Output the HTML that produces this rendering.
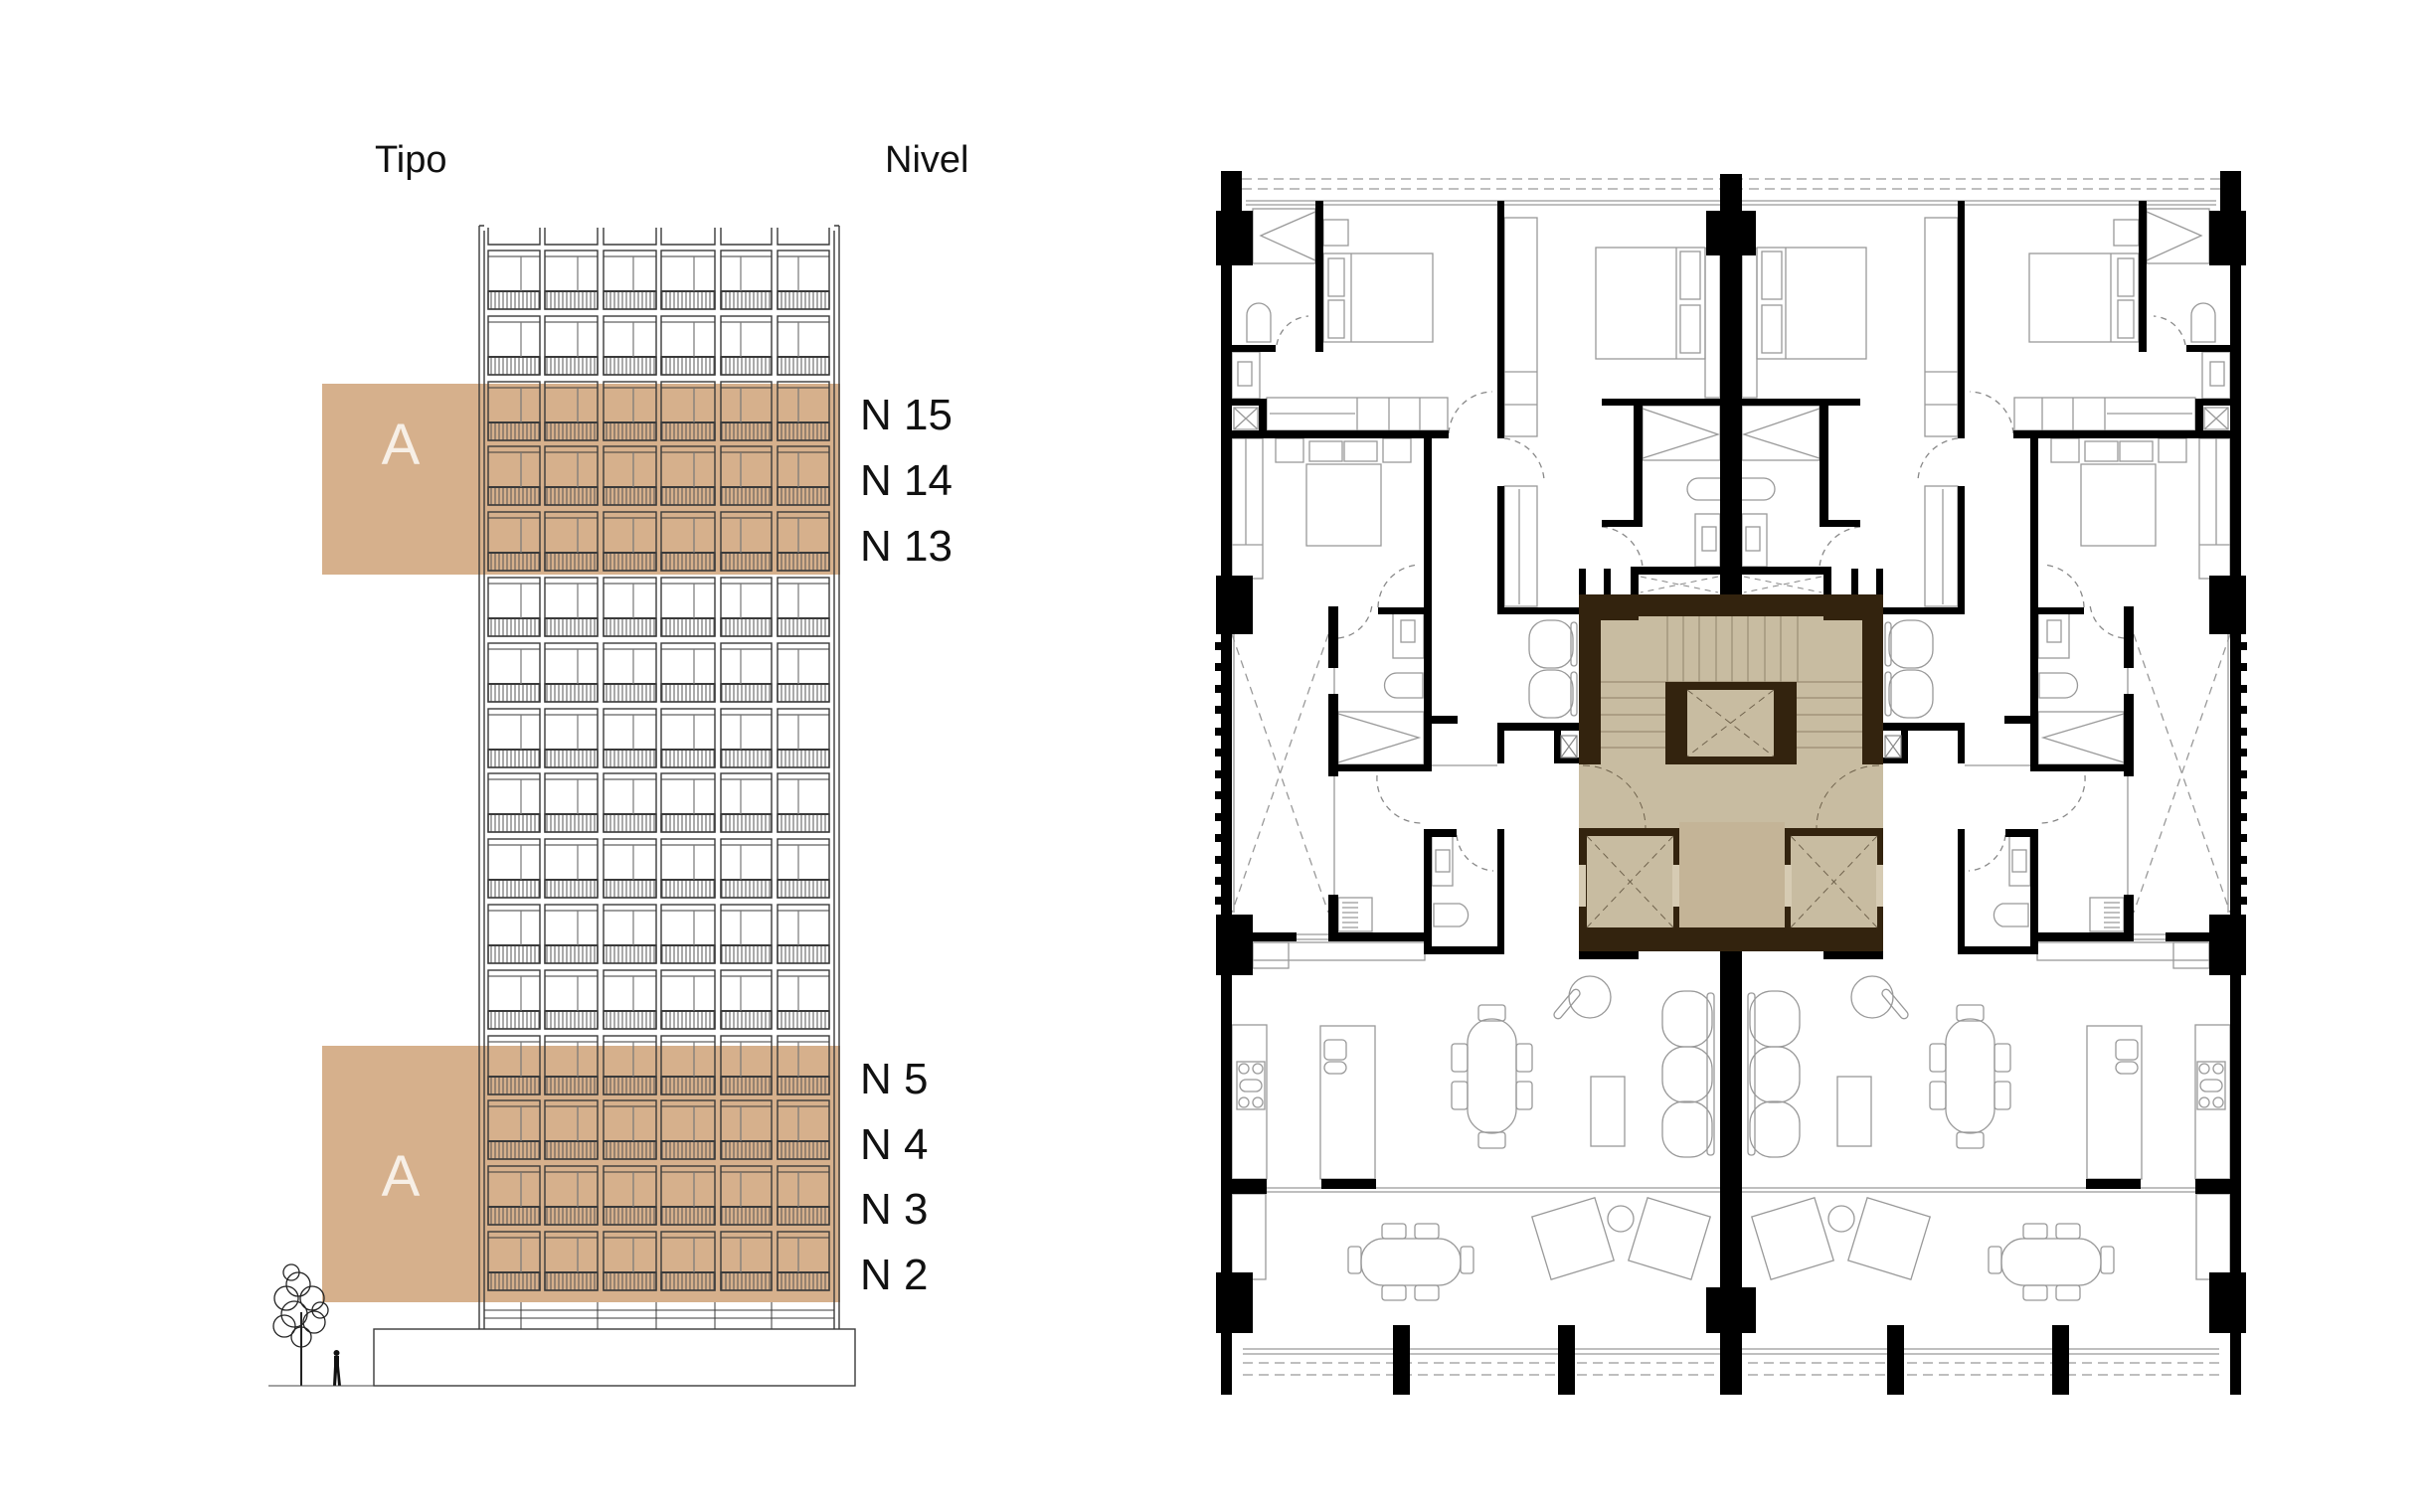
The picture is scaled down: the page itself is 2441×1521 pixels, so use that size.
<!DOCTYPE html>
<html><head><meta charset="utf-8"><style>
html,body{margin:0;padding:0;background:#fff;}
svg{display:block;}
text{font-family:"Liberation Sans",sans-serif;}
</style></head><body>
<svg width="2441" height="1521" viewBox="0 0 2441 1521" xmlns="http://www.w3.org/2000/svg">
<defs>
<pattern id="bal" width="4" height="20" patternUnits="userSpaceOnUse"><line x1="2" y1="0" x2="2" y2="20" stroke="#555" stroke-width="1"/></pattern>
<g id="row" fill="none" stroke="#3a3a3a" stroke-width="1.4">
<rect x="491" y="0" width="52" height="59"/><rect x="548" y="0" width="53" height="59"/><rect x="607" y="0" width="53" height="59"/><rect x="665" y="0" width="54" height="59"/><rect x="725" y="0" width="51" height="59"/><rect x="782" y="0" width="52" height="59"/>
<rect x="491" y="41" width="52" height="18" fill="url(#bal)"/><rect x="548" y="41" width="53" height="18" fill="url(#bal)"/><rect x="607" y="41" width="53" height="18" fill="url(#bal)"/><rect x="665" y="41" width="54" height="18" fill="url(#bal)"/><rect x="725" y="41" width="51" height="18" fill="url(#bal)"/><rect x="782" y="41" width="52" height="18" fill="url(#bal)"/>
<path d="M491 6H543M548 6H601M607 6H660M665 6H719M725 6H776M782 6H834" stroke-width="1"/>
<path d="M491 41H543M548 41H601M607 41H660M665 41H719M725 41H776M782 41H834" stroke-width="2"/>
<path d="M524 6V41M581 6V41M637 6V41M698 6V41M745 6V41M803 6V41" stroke="#777" stroke-width="1.2"/>
</g>
</defs>

<!-- ELEVATION -->
<text x="377" y="173" font-size="38" fill="#111">Tipo</text>
<text x="890" y="173" font-size="38" fill="#111">Nivel</text>
<rect x="324" y="386" width="521" height="192" fill="#d6b08c"/>
<rect x="324" y="1052" width="521" height="258" fill="#d6b08c"/>
<g fill="none" stroke="#3a3a3a" stroke-width="1.4">
<path d="M482 227V1337M487 232V1337M839 232V1337M844 227V1337M482 227H487M839 227H844"/>
<path d="M491 229V246H543V229M548 229V246H601V229M607 229V246H660V229M665 229V246H719V229M725 229V246H776V229M782 229V246H834V229"/>
<path d="M487 1318H839M487 1326H839M524 1310V1337M601 1310V1337M660 1310V1337M719 1310V1337M776 1310V1337" stroke-width="1"/>
<rect x="376" y="1337" width="484" height="57"/>
</g>
<use href="#row" y="252"/><use href="#row" y="318"/><use href="#row" y="384"/><use href="#row" y="449"/>
<use href="#row" y="515"/><use href="#row" y="581"/><use href="#row" y="647"/><use href="#row" y="713"/>
<use href="#row" y="778"/><use href="#row" y="844"/><use href="#row" y="910"/><use href="#row" y="976"/>
<use href="#row" y="1042"/><use href="#row" y="1107"/><use href="#row" y="1173"/><use href="#row" y="1239"/>
<text x="403" y="467" font-size="58" fill="#f7efe6" text-anchor="middle">A</text>
<text x="403" y="1203" font-size="58" fill="#f7efe6" text-anchor="middle">A</text>
<g font-size="44" fill="#111">
<text x="865" y="432">N 15</text><text x="865" y="498">N 14</text><text x="865" y="564">N 13</text>
<text x="865" y="1100">N 5</text><text x="865" y="1166">N 4</text><text x="865" y="1231">N 3</text><text x="865" y="1297">N 2</text>
</g>
<!-- tree & person -->
<g fill="none" stroke="#222" stroke-width="1.3">
<line x1="303" y1="1320" x2="303" y2="1394" stroke-width="2"/>
<circle cx="300" cy="1292" r="12"/><circle cx="288" cy="1306" r="12"/><circle cx="314" cy="1306" r="12"/><circle cx="296" cy="1322" r="13"/><circle cx="316" cy="1330" r="11"/><circle cx="286" cy="1334" r="11"/><circle cx="303" cy="1345" r="10"/><circle cx="293" cy="1280" r="8"/><circle cx="322" cy="1318" r="8"/>
</g>
<path d="M336 1364h5v10l2 20h-3l-1-14-1 14h-3l1-20z" fill="#111"/><circle cx="338.5" cy="1361" r="3" fill="#111"/>
<line x1="270" y1="1394" x2="376" y2="1394" stroke="#444" stroke-width="1"/>

<!-- PLAN LEFT HALF -->
<g id="half">
<g fill="none" stroke="#999" stroke-width="1.3">
<path d="M1249 180H1730M1249 190H1730" stroke-dasharray="10 6"/>
<path d="M1253 202H1730M1253 206H1730"/>
<path d="M1250 1357H1730M1250 1362H1730"/>
<path d="M1250 1371H1730M1250 1383H1730" stroke-dasharray="10 6"/>
<path d="M1274 1195H1730M1274 1199H1730"/>
<path d="M1237 638V918M1241 638V918"/>
<path d="M1239 638L1336 918M1336 638L1239 918" stroke-dasharray="8 6"/>
<path d="M1342 672V698M1342 781V900"/>
<path d="M1304 940H1336M1304 945H1336M1440 770H1506"/>
<!-- furniture -->
<rect x="1331" y="255" width="110" height="89"/><rect x="1336" y="260" width="16" height="38"/><rect x="1336" y="302" width="16" height="38"/><line x1="1359" y1="255" x2="1359" y2="344"/>
<rect x="1331" y="221" width="25" height="26"/>
<rect x="1260" y="210" width="63" height="55"/><polyline points="1323,213 1268,237 1323,262"/>
<path d="M1254 344V317a12 12 0 0 1 24 0V344z"/>
<rect x="1239" y="354" width="28" height="47"/><rect x="1245" y="364" width="14" height="24"/>
<rect x="1241" y="410" width="24" height="22"/><path d="M1241 410L1265 432M1265 410L1241 432"/>
<rect x="1274" y="400" width="182" height="33"/><path d="M1365 400V433M1397 400V433M1428 400V433M1277 416H1363"/>
<rect x="1513" y="219" width="33" height="220"/><path d="M1513 374H1546M1513 407H1546"/>
<rect x="1605" y="249" width="110" height="112"/><rect x="1690" y="253" width="20" height="48"/><rect x="1690" y="307" width="20" height="48"/><line x1="1686" y1="249" x2="1686" y2="361"/>
<rect x="1715" y="250" width="15" height="150"/>
<rect x="1314" y="467" width="75" height="82"/><rect x="1283" y="441" width="28" height="24"/><rect x="1317" y="444" width="33" height="20"/><rect x="1352" y="444" width="33" height="20"/><rect x="1391" y="441" width="28" height="24"/>
<rect x="1239" y="441" width="31" height="141"/><path d="M1253 441V548M1239 548H1270"/>
<rect x="1513" y="489" width="33" height="121"/><line x1="1528" y1="492" x2="1528" y2="608"/>
<rect x="1652" y="408" width="78" height="55"/><polyline points="1652,411 1728,437 1652,461"/>
<path d="M1730 481H1708a11 11 0 0 0 0 22H1730"/>
<rect x="1705" y="517" width="25" height="53"/><rect x="1712" y="530" width="14" height="24"/>
<rect x="1538" y="624" width="44" height="48" rx="18"/><rect x="1538" y="674" width="44" height="48" rx="18"/><rect x="1580" y="626" width="6" height="44" rx="3"/><rect x="1580" y="676" width="6" height="44" rx="3"/>
<rect x="1401" y="614" width="31" height="48"/><rect x="1409" y="624" width="14" height="22"/>
<path d="M1431 677H1405a12 12 0 0 0 0 25H1431z"/>
<rect x="1346" y="716" width="86" height="53"/><polyline points="1346,718 1427,742 1346,767"/>
<rect x="1440" y="841" width="21" height="50"/><rect x="1444" y="855" width="14" height="22"/>
<path d="M1442 909H1468a12 12 0 0 1 0 23H1442z"/>
<rect x="1346" y="903" width="34" height="34"/><path d="M1350 908H1366M1350 913H1366M1350 918H1366M1350 923H1366M1350 928H1366M1350 933H1366"/>
<rect x="1260" y="948" width="173" height="18"/><rect x="1260" y="948" width="36" height="26"/>
<rect x="1239" y="1031" width="35" height="155"/><rect x="1244" y="1068" width="28" height="48"/><circle cx="1251" cy="1075" r="5"/><circle cx="1265" cy="1075" r="5"/><circle cx="1251" cy="1109" r="5"/><circle cx="1265" cy="1109" r="5"/><rect x="1247" y="1086" width="22" height="12" rx="6"/>
<rect x="1328" y="1032" width="55" height="154"/><rect x="1332" y="1046" width="22" height="20" rx="4"/><rect x="1332" y="1068" width="22" height="12" rx="6"/>
<rect x="1476" y="1025" width="49" height="115" rx="24"/><rect x="1487" y="1011" width="27" height="16" rx="3"/><rect x="1487" y="1139" width="27" height="16" rx="3"/><rect x="1460" y="1050" width="16" height="28" rx="3"/><rect x="1460" y="1088" width="16" height="28" rx="3"/><rect x="1525" y="1050" width="16" height="28" rx="3"/><rect x="1525" y="1088" width="16" height="28" rx="3"/>
<rect x="1600" y="1083" width="34" height="70"/>
<circle cx="1599" cy="1003" r="21"/><rect x="1572" y="992" width="8" height="36" rx="4" transform="rotate(40 1576 1010)"/>
<rect x="1672" y="997" width="50" height="56" rx="22"/><rect x="1672" y="1053" width="50" height="56" rx="22"/><rect x="1672" y="1108" width="50" height="56" rx="22"/><rect x="1717" y="999" width="7" height="163" rx="3"/>
<rect x="1369" y="1246" width="100" height="47" rx="22"/><rect x="1390" y="1231" width="24" height="15" rx="3"/><rect x="1423" y="1231" width="24" height="15" rx="3"/><rect x="1390" y="1293" width="24" height="15" rx="3"/><rect x="1423" y="1293" width="24" height="15" rx="3"/><rect x="1356" y="1254" width="13" height="27" rx="3"/><rect x="1469" y="1254" width="13" height="27" rx="3"/>
<rect x="1549" y="1213" width="66" height="66" transform="rotate(-17 1582 1246)"/>
<circle cx="1630" cy="1226" r="13"/>
<rect x="1646" y="1213" width="66" height="66" transform="rotate(17 1679 1246)"/>
<rect x="1239" y="1201" width="34" height="86"/>
<!-- doors -->
<g stroke-dasharray="6 5" stroke="#888">
<path d="M1457 436A45 45 0 0 1 1501 394"/>
<path d="M1513 441A45 45 0 0 1 1553 483"/>
<path d="M1284 347A35 35 0 0 1 1316 318"/>
<path d="M1386 611A44 44 0 0 1 1427 568"/>
<path d="M1346 642A38 38 0 0 0 1380 608"/>
<path d="M1385 780A45 45 0 0 0 1432 828"/>
<path d="M1465 840A40 40 0 0 0 1502 876"/>
<path d="M1611 530A45 45 0 0 1 1652 570"/>
</g>
</g>
<g fill="#000">
<rect x="1228" y="172" width="11" height="1231"/>
<rect x="1223" y="212" width="37" height="55"/><rect x="1228" y="172" width="21" height="40"/>
<rect x="1223" y="579" width="37" height="59"/>
<rect x="1223" y="920" width="37" height="61"/>
<rect x="1223" y="1280" width="37" height="61"/>
<rect x="1222" y="646" width="8" height="8"/><rect x="1222" y="667" width="8" height="8"/><rect x="1222" y="689" width="8" height="8"/><rect x="1222" y="710" width="8" height="8"/><rect x="1222" y="732" width="8" height="8"/><rect x="1222" y="753" width="8" height="8"/><rect x="1222" y="775" width="8" height="8"/><rect x="1222" y="796" width="8" height="8"/><rect x="1222" y="818" width="8" height="8"/><rect x="1222" y="839" width="8" height="8"/><rect x="1222" y="861" width="8" height="8"/><rect x="1222" y="882" width="8" height="8"/><rect x="1222" y="902" width="8" height="8"/>
<rect x="1323" y="202" width="8" height="152"/>
<rect x="1239" y="347" width="44" height="7"/>
<rect x="1506" y="202" width="7" height="239"/>
<rect x="1239" y="433" width="218" height="8"/>
<rect x="1239" y="401" width="35" height="7"/><rect x="1266" y="401" width="8" height="32"/>
<rect x="1432" y="441" width="8" height="335"/>
<rect x="1386" y="611" width="46" height="7"/>
<rect x="1506" y="489" width="7" height="129"/>
<rect x="1506" y="611" width="82" height="7"/>
<rect x="1611" y="401" width="142" height="7"/>
<rect x="1643" y="408" width="9" height="122"/>
<rect x="1611" y="523" width="41" height="7"/>
<rect x="1588" y="572" width="7" height="26"/><rect x="1613" y="572" width="7" height="26"/><rect x="1640" y="570" width="9" height="28"/><rect x="1640" y="570" width="113" height="8"/>
<rect x="1336" y="610" width="10" height="62"/><rect x="1336" y="698" width="10" height="83"/><rect x="1336" y="900" width="10" height="47"/>
<rect x="1336" y="769" width="104" height="7"/>
<rect x="1440" y="720" width="26" height="8"/>
<rect x="1336" y="938" width="97" height="9"/>
<rect x="1260" y="938" width="44" height="9"/>
<rect x="1432" y="834" width="8" height="126"/><rect x="1432" y="834" width="33" height="8"/><rect x="1506" y="834" width="7" height="126"/><rect x="1432" y="952" width="81" height="8"/>
<rect x="1506" y="727" width="7" height="41"/><rect x="1506" y="727" width="82" height="8"/><rect x="1563" y="735" width="7" height="33"/><rect x="1563" y="762" width="25" height="6"/>
<rect x="1401" y="1333" width="17" height="70"/><rect x="1567" y="1333" width="17" height="70"/>
<rect x="1239" y="1186" width="35" height="15"/><rect x="1329" y="1186" width="55" height="10"/>
</g>
<g fill="none" stroke="#888" stroke-width="1.2"><rect x="1570" y="740" width="16" height="22"/><path d="M1570 740L1586 762M1586 740L1570 762"/></g>
</g>
<use href="#half" transform="translate(3482,0) scale(-1,1)"/>

<!-- SPINE -->
<rect x="1730" y="175" width="22" height="1228" fill="#000"/>
<rect x="1716" y="212" width="50" height="45" fill="#000"/>
<rect x="1716" y="1295" width="50" height="46" fill="#000"/>

<!-- CORE -->
<rect x="1648" y="578" width="82" height="20" fill="#fff"/><rect x="1752" y="578" width="82" height="20" fill="#fff"/>
<g fill="none" stroke="#888" stroke-width="1" stroke-dasharray="6 5"><path d="M1650 580L1728 596M1728 580L1650 596M1754 580L1832 596M1832 580L1754 596"/></g>
<rect x="1588" y="598" width="306" height="359" fill="#33230e"/>
<rect x="1610" y="624" width="263" height="145" fill="#c8bca1"/>
<rect x="1648" y="620" width="186" height="6" fill="#c8bca1"/>
<rect x="1588" y="769" width="306" height="64" fill="#c8bca1"/>
<rect x="1689" y="827" width="106" height="106" fill="#c4b497"/>
<g stroke="#9a8d74" stroke-width="1.2">
<path d="M1677 620V686M1693 620V686M1709 620V686M1726 620V686M1742 620V686M1758 620V686M1775 620V686M1791 620V686M1808 620V686"/>
<path d="M1610 686H1873M1610 702H1675M1610 719H1675M1610 736H1675M1610 752H1675M1807 702H1873M1807 719H1873M1807 736H1873M1807 752H1873"/>
</g>
<rect x="1675" y="686" width="132" height="83" fill="#33230e"/>
<rect x="1697" y="694" width="87" height="67" fill="#c8bca1"/>
<rect x="1596" y="841" width="87" height="92" fill="#c8bca1"/>
<rect x="1801" y="841" width="87" height="92" fill="#c8bca1"/>
<rect x="1588" y="870" width="7" height="42" fill="#d6cbb3"/><rect x="1682" y="870" width="7" height="42" fill="#d6cbb3"/><rect x="1795" y="870" width="7" height="42" fill="#d6cbb3"/><rect x="1887" y="870" width="7" height="42" fill="#d6cbb3"/>
<g fill="none" stroke="#6f624c" stroke-width="1" stroke-dasharray="7 5">
<path d="M1697 694L1784 761M1784 694L1697 761M1596 841L1683 933M1683 841L1596 933M1801 841L1888 933M1888 841L1801 933"/>
<path d="M1592 770A63 63 0 0 1 1655 833M1890 770A63 63 0 0 0 1827 833"/>
</g>
<rect x="1588" y="957" width="60" height="8" fill="#000"/><rect x="1834" y="957" width="60" height="8" fill="#000"/>
</svg>
</body></html>
